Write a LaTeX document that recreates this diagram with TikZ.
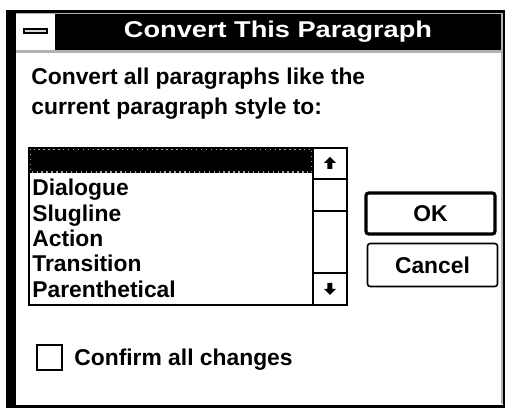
\documentclass[tikz,border=0pt]{standalone}
\usepackage{fontspec}
\setmainfont{Liberation Sans}
\newfontfamily\titlefont[FakeStretch=1.19]{Liberation Sans}
\usetikzlibrary{arrows.meta}

\begin{document}
\begin{tikzpicture}[x=0.02cm,y=-0.02cm,
    dlgtext/.style={font=\bfseries\fontsize{13}{15}\selectfont, inner sep=0pt, anchor=base west},
    btntext/.style={font=\bfseries\fontsize{13}{15}\selectfont, inner sep=0pt},
    btn/.style={draw=black, rounded corners=1.5pt},
    thinline/.style={draw=black, line width=0.8pt}]
    \useasboundingbox (0,0) rectangle (505,408);

    % Window frame
    \fill[black] (6,10) rectangle (505,408);
    \fill[white] (16,13) rectangle (503,405);
    \draw[gray!60, line width=0.8pt] (16.5,13.5) -- (502,13.5) -- (502,404.5);

    % Title bar with control box
    \fill[black] (17,14) rectangle (501,50);
    \draw[gray!60, line width=1.2pt] (16,51.5) -- (502,51.5);
    \fill[white] (17,14) rectangle (55,50);
    \draw[black, fill=gray!30, line width=0.9pt] (24,29) rectangle (47,33);
    \node[font=\titlefont\bfseries\fontsize{13}{15}\selectfont, text=white, inner sep=0pt, anchor=base] (title) at (278,38) {Convert This Paragraph};

    % Prompt
    \node[dlgtext] (prompta) at (31,85) {Convert all paragraphs like the};
    \node[dlgtext] (promptb) at (31,115) {current paragraph style to:};

    % List box
    \fill[black] (29,148) rectangle (313,173);
    \draw[gray!70, dotted, line width=0.8pt] (30,149) rectangle (312,172);
    \draw[thinline] (29,148) rectangle (347,305);
    \draw[thinline] (313,148) -- (313,305);
    \foreach \yy in {179,211,273}
        \draw[thinline] (313,\yy) -- (347,\yy);
    \fill[black] (330,157) -- (336,163) -- (332.5,163) -- (332.5,169) -- (327.5,169) -- (327.5,163) -- (324,163) -- cycle;
    \fill[black] (330,295) -- (336,289) -- (332.5,289) -- (332.5,283) -- (327.5,283) -- (327.5,289) -- (324,289) -- cycle;
    \foreach \name [count=\i from 0] in {Dialogue,Slugline,Action,Transition,Parenthetical}
        \node[dlgtext] (item\i) at (32,{196+25.3*\i}) {\name};

    % Buttons
    \draw[btn, line width=1.8pt] (366,193) rectangle (495,234);
    \node[btntext] (okbtn) at (430.5,213.5) {OK};
    \draw[btn, line width=0.9pt] (367.5,243.5) rectangle (497.5,286.5);
    \node[btntext] (cancelbtn) at (432.5,265) {Cancel};

    % Check box
    \draw[thinline, line width=1pt] (37,345) rectangle (62,370);
    \node[dlgtext] (confirm) at (74,366) {Confirm all changes};
\end{tikzpicture}
\end{document}
